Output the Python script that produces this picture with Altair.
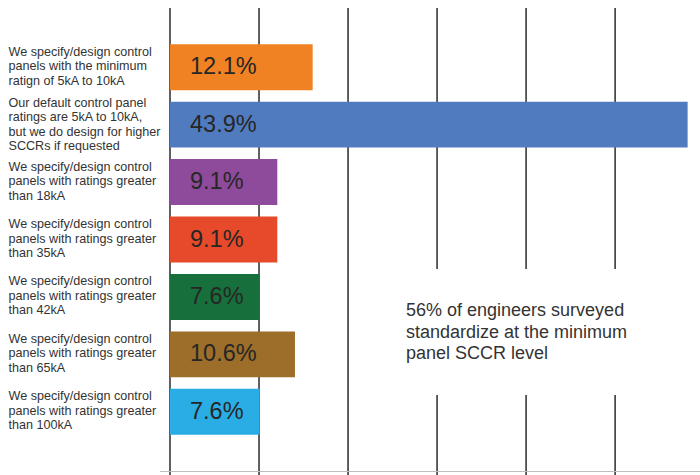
import altair as alt
import pandas as pd

categories = [
    "We specify/design control|panels with the minimum|ratign of 5kA to 10kA",
    "Our default control panel|ratings are 5kA to 10kA,|but we do design for higher|SCCRs if requested",
    "We specify/design control|panels with ratings greater|than 18kA",
    "We specify/design control|panels with ratings greater|than 35kA",
    "We specify/design control|panels with ratings greater|than 42kA",
    "We specify/design control|panels with ratings greater|than 65kA",
    "We specify/design control|panels with ratings greater|than 100kA",
]
values = [12.1, 43.9, 9.1, 9.1, 7.6, 10.6, 7.6]
value_labels = ["12.1%", "43.9%", "9.1%", "9.1%", "7.6%", "10.6%", "7.6%"]
colors = ["#F08223", "#517BBF", "#8E4B9B", "#E64A2B", "#17703C", "#9C6E2A", "#29ADE4"]
grid_values = [0, 7.55, 15.1, 22.65, 30.2, 37.75]
annotation_lines = ["56% of engineers surveyed", "standardize at the minimum", "panel SCCR level"]

df = pd.DataFrame({"cat": categories, "value": values, "label": value_labels, "color": colors})
df_grid = pd.DataFrame({"g": grid_values})
df_one = pd.DataFrame({"k": [0]})

W, H = 530, 463
xscale = alt.Scale(domain=[0, 44.95], nice=False, zero=True)

y_enc = alt.Y(
    "cat:N",
    sort=categories,
    scale=alt.Scale(paddingInner=0.2, paddingOuter=0.63),
    axis=alt.Axis(
        title=None,
        ticks=False,
        domain=False,
        grid=False,
        labelAlign="left",
        labelBaseline="middle",
        labelPadding=162,
        labelLimit=0,
        labelExpr="split(datum.label, '|')",
        labelOffset=alt.condition(
            "length(split(datum.value, '|')) > 3", alt.value(-21.7), alt.value(-15.5)
        ),
        labelFontSize=12.6,
        labelLineHeight=14.5,
        labelColor="#333333",
        labelFont="Liberation Sans",
    ),
)

grid = alt.Chart(df_grid).mark_rule(color="#2b2b2b", strokeWidth=1.5).encode(
    x=alt.X("g:Q", scale=xscale, axis=None),
    y=alt.value(0),
    y2=alt.value(467),
)

gap = alt.Chart(df_one).mark_rect(color="white").encode(
    x=alt.value(225), x2=alt.value(535), y=alt.value(261), y2=alt.value(387)
)

bars = alt.Chart(df).mark_bar().encode(
    x=alt.X("value:Q", scale=xscale, axis=None),
    y=y_enc,
    color=alt.Color("color:N", scale=None, legend=None),
)

bar_text = alt.Chart(df).mark_text(
    align="left", baseline="middle", fontSize=23.5, color="#262626", font="Liberation Sans"
).encode(
    x=alt.value(20),
    y=alt.Y("cat:N", sort=categories),
    text="label:N",
)

baseline_rule = alt.Chart(df_one).mark_rule(color="#bdbdbd", strokeWidth=1).encode(
    x=alt.value(-10), x2=alt.value(530), y=alt.value(463.5)
)

annotation = alt.Chart(df_one).mark_text(
    align="left", baseline="middle", fontSize=18, lineHeight=21.7,
    color="#333333", font="Liberation Sans", text=annotation_lines,
).encode(
    x=alt.value(236), y=alt.value(303)
)

chart = alt.layer(grid, gap, bars, bar_text, baseline_rule, annotation).properties(
    width=W,
    height=H,
    autosize=alt.AutoSizeParams(type="none"),
    padding={"left": 170, "top": 8, "right": 0, "bottom": 4},
    background="white",
).configure_view(stroke=None)

chart.save("out.html", embed_options={"renderer": "svg", "actions": False})
